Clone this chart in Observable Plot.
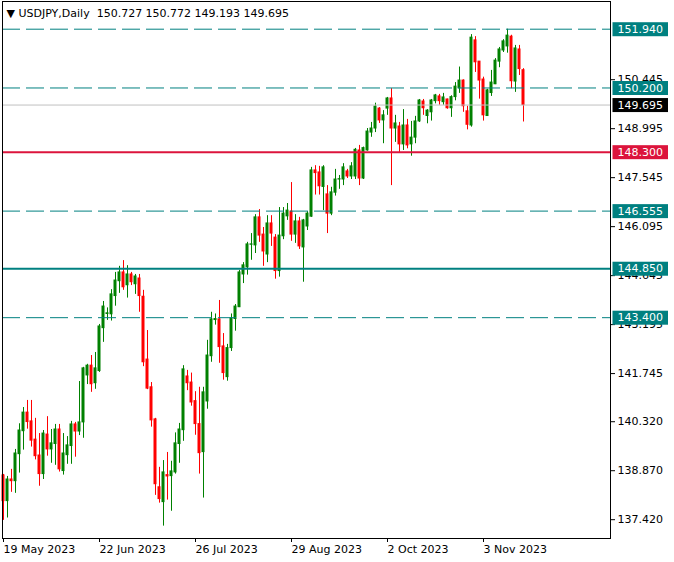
<!DOCTYPE html>
<html><head><meta charset="utf-8">
<script src="https://cdn.jsdelivr.net/npm/d3@7"></script>
<script src="https://cdn.jsdelivr.net/npm/@observablehq/plot@0.6"></script>
<style>
html,body{margin:0;padding:0;background:#fff;}
svg text{white-space:pre;}
</style></head><body><div id="chart"></div>
<script>
// Daily USDJPY candles, 19 May 2023 .. 17 Nov 2023 (one entry per trading day)
const opens = [138.73,137.97,138.61,138.56,139.36,140.04,140.59,140.33,139.79,139.32,
138.77,139.94,139.50,139.66,140.09,138.86,139.33,139.60,140.24,140.03,
140.30,141.69,141.98,141.46,141.82,143.09,143.51,143.50,144.04,144.48,
144.74,144.36,144.68,144.39,144.56,144.02,142.16,141.34,140.39,138.38,
137.94,138.74,138.71,138.82,139.66,140.07,141.66,141.48,140.93,140.25,
139.42,140.92,142.26,143.33,143.35,142.55,141.64,142.50,143.36,143.71,
144.68,144.89,145.56,145.54,146.37,145.86,145.27,146.19,145.77,144.78,
145.81,146.40,146.54,145.86,146.25,145.48,146.10,146.39,147.76,147.70,
147.27,147.05,146.48,147.10,147.49,147.49,147.73,147.58,147.58,148.35,
147.52,148.35,148.88,149.00,149.59,149.24,149.59,149.89,149.00,149.06,
148.53,149.09,148.53,148.73,149.21,149.80,149.37,149.48,149.81,149.95,
149.78,149.86,149.60,149.93,150.19,150.42,149.51,149.09,151.61,150.98,
150.45,149.37,150.05,150.31,150.98,151.31,151.43,151.72,150.39,151.34,
150.727];
const highs = [138.76,138.70,138.91,139.50,140.26,140.74,140.95,140.95,140.42,139.97,
140.06,140.47,140.09,140.24,140.24,139.97,139.88,140.33,140.30,141.51,
141.93,142.02,142.28,142.37,143.20,143.88,143.69,144.23,144.74,144.92,
145.09,144.94,144.74,144.68,144.68,144.21,143.02,141.48,140.42,138.97,
139.17,139.41,139.15,139.99,140.27,141.98,141.84,141.76,141.21,141.34,
141.34,142.73,143.56,143.51,143.91,142.93,142.61,143.51,143.79,144.80,
145.03,145.63,145.89,146.45,146.60,146.07,146.42,146.42,145.86,146.66,
146.66,146.78,147.40,146.45,146.37,146.31,146.54,147.85,147.90,147.88,
147.90,147.31,147.26,147.79,147.61,147.96,147.79,147.99,148.41,148.50,
148.45,149.00,149.18,149.75,149.62,149.53,149.92,150.18,149.39,149.18,
149.56,149.27,149.21,149.36,149.86,149.86,149.56,149.86,150.01,150.01,
150.04,149.87,149.97,150.36,150.82,150.44,149.66,151.78,151.72,150.98,
150.52,150.16,150.72,151.07,151.40,151.63,151.94,151.76,151.46,151.46,
150.772];
const lows = [137.40,137.47,138.23,138.20,138.80,139.48,140.10,139.57,139.19,138.41,
138.61,139.30,139.09,139.03,138.83,138.74,139.06,139.06,139.27,139.91,
139.83,141.42,141.19,141.28,141.78,142.67,143.32,143.30,143.74,144.12,
144.21,143.98,144.35,144.09,143.56,141.95,141.27,140.16,138.14,137.91,
137.23,138.00,137.67,138.77,139.09,139.74,141.24,140.78,139.92,138.77,
138.06,140.69,142.08,143.18,142.05,141.55,141.52,142.40,143.00,143.70,
144.41,144.66,145.10,145.30,145.63,144.92,145.03,145.51,144.54,144.60,
145.71,146.28,145.66,145.60,145.42,144.45,145.98,146.37,147.03,147.03,
146.57,145.89,146.42,147.00,147.20,147.31,147.52,147.49,147.49,147.31,
147.49,148.33,148.74,148.88,149.15,148.55,149.39,147.31,148.59,148.29,
148.35,148.40,148.18,148.55,149.18,149.39,149.14,149.22,149.73,149.69,
149.69,149.57,149.33,149.82,150.04,149.48,148.96,149.04,150.66,149.87,
149.22,149.36,149.95,150.30,150.80,151.25,151.23,150.18,150.07,150.57,
149.193];
const closes = [137.97,138.61,138.56,139.38,140.06,140.59,140.31,139.76,139.30,138.77,
139.97,139.50,139.68,140.09,138.91,139.38,139.62,140.24,140.03,140.30,
141.90,141.98,141.43,141.90,143.14,143.73,143.53,144.09,144.50,144.74,
144.30,144.68,144.45,144.62,144.04,142.08,141.30,140.36,138.47,138.03,
138.82,138.70,138.85,139.68,140.09,141.87,141.46,140.89,140.25,139.39,
141.19,142.28,143.35,143.36,142.53,141.76,142.50,143.38,143.73,144.74,
144.95,145.57,145.57,146.37,145.83,145.36,146.19,145.89,144.78,145.83,
146.48,146.57,145.86,146.25,145.51,146.28,146.48,147.76,147.68,147.29,
147.85,146.48,147.11,147.49,147.50,147.85,147.58,147.88,148.37,147.52,
148.42,148.91,149.00,149.65,149.24,149.39,149.89,149.00,149.15,148.53,
149.09,148.50,148.73,149.21,149.83,149.60,149.53,149.83,149.98,149.81,
149.92,149.60,149.93,150.24,150.42,149.66,149.11,151.69,150.96,150.42,
149.39,150.13,150.36,151.01,151.34,151.58,151.75,150.40,151.37,150.76,
149.695];

const dateTicks = [0, 24, 48, 72, 96, 120];           // bar index of each date label
const dateLabels = ["19 May 2023", "22 Jun 2023", "26 Jul 2023", "29 Aug 2023", "2 Oct 2023", "3 Nov 2023"];
const priceTicks = [150.445, 148.995, 147.545, 146.095, 144.645, 143.195, 141.745, 140.320, 138.870, 137.420];
const dashedLevels = [151.940, 150.200, 146.555, 143.400];
const solidLevels = [148.300, 144.850];
const solidColors = ["#dc143c", "#008080"];
const currentPrice = 149.695;
const labelValues = [151.940, 150.200, 149.695, 148.300, 146.555, 144.850, 143.400];
const labelColors = ["#008080", "#008080", "#000000", "#dc143c", "#008080", "#008080", "#008080"];
const titleText = "\u25BC USDJPY,Daily  150.727 150.772 149.193 149.695";

const bars = opens.map((o, i) => ({i, o, h: highs[i], l: lows[i], c: closes[i]}));
const candleColor = d => d.c >= d.o ? "#008000" : "#ff0000";
const solid = solidLevels.map((v, k) => ({v, color: solidColors[k]}));
const labels = labelValues.map((v, k) => ({v, bg: labelColors[k]}));
const fmt = d3.format(".3f");

const chart = Plot.plot({
  width: 674, height: 562,
  marginLeft: 2, marginRight: 64, marginTop: 1, marginBottom: 24,
  x: {type: "linear", domain: [-0.25, 151.75], axis: null},
  y: {domain: [136.8632, 152.7600], axis: null},
  color: {type: "identity"},
  style: {fontFamily: "DejaVu Sans", fontSize: "11px", color: "#000", background: "#fff", overflow: "visible"},
  marks: [
    Plot.ruleX(bars, {x: "i", y1: "l", y2: "h", stroke: candleColor, strokeWidth: 1}),
    Plot.rect(bars, {x1: "i", x2: "i", y1: d => Math.min(d.o, d.c), y2: d => Math.max(d.o, d.c),
      fill: candleColor, insetLeft: -1.5, insetRight: -1.5, insetTop: -0.5, insetBottom: -0.5}),
    Plot.ruleY(dashedLevels, {stroke: "#008080", strokeWidth: 1, strokeDasharray: "18,6"}),
    Plot.ruleY([currentPrice], {stroke: "#c0c0c0", strokeWidth: 1}),
    Plot.ruleY(solid, {y: "v", stroke: "color", strokeWidth: 2}),
    Plot.axisY(priceTicks, {anchor: "right", tickSize: 4, tickPadding: 3, tickFormat: fmt, label: null, fontSize: 11}),
    Plot.axisX(dateTicks, {anchor: "bottom", tickSize: 4, tickPadding: 3, textAnchor: "start",
      tickFormat: d => dateLabels[dateTicks.indexOf(d)], label: null, fontSize: 11}),
    Plot.text(labels, {y: "v", text: d => fmt(d.v), frameAnchor: "right", dx: 7, textAnchor: "start",
      fill: "#fffffe", fontSize: 11}),
    Plot.text([titleText], {frameAnchor: "top-left", dx: 4, dy: 8, textAnchor: "start", lineAnchor: "top",
      fill: "#000", fontSize: 11}),
    Plot.frame({stroke: "#000"})
  ]
});
document.getElementById("chart").append(chart);

// coloured boxes behind the level price labels (the group whose text fill is #fffffe)
const labelTexts = [];
chart.querySelectorAll("text").forEach(t => {
  let el = t, found = false;
  while (el && el !== chart) {
    const f = el.getAttribute && el.getAttribute("fill");
    if (f && f.toLowerCase() === "#fffffe") { found = true; break; }
    el = el.parentNode;
  }
  if (found) labelTexts.push(t);
});
labelTexts.forEach((t, j) => {
  const bb = t.getBBox();
  const r = document.createElementNS("http://www.w3.org/2000/svg", "rect");
  const tr = t.getAttribute("transform");
  if (tr) r.setAttribute("transform", tr);
  r.setAttribute("x", bb.x - 5);
  r.setAttribute("width", bb.width + 10);
  r.setAttribute("y", bb.y + bb.height / 2 - 7);
  r.setAttribute("height", 14);
  const k = labelValues.findIndex(v => fmt(v) === t.textContent);
  r.setAttribute("fill", labelColors[k >= 0 ? k : j] || "#008080");
  t.parentNode.insertBefore(r, t);
});
</script>
</body></html>
